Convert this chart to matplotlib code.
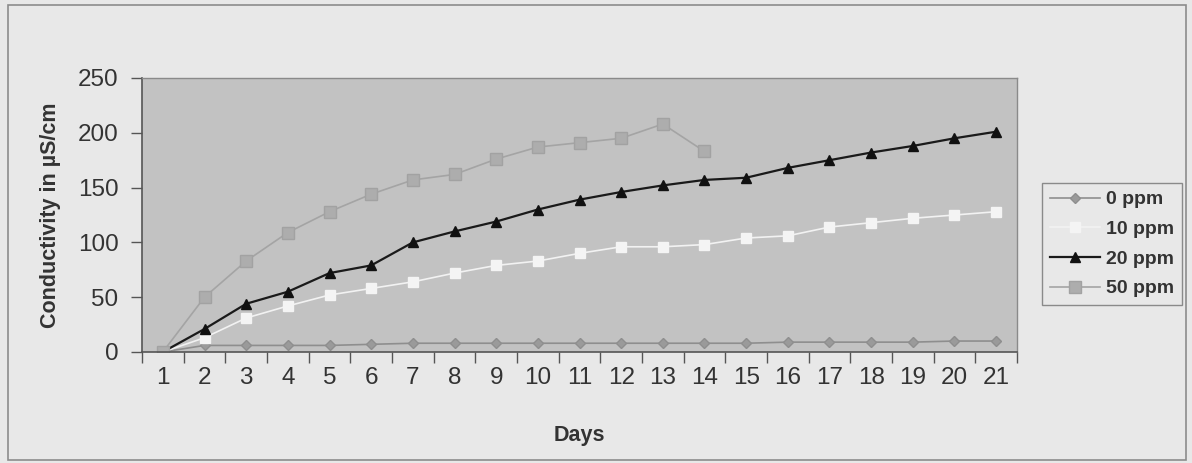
import matplotlib.pyplot as plt
from matplotlib.patches import Rectangle

plt.rcParams['font.family'] = ['Liberation Sans', 'DejaVu Sans']

# dados
dias = list(range(1, 22))
ppm_0 = [0, 6, 6, 6, 6, 7, 8, 8, 8, 8, 8, 8, 8, 8, 8, 9, 9, 9, 9, 10, 10]
ppm_10 = [0, 13, 31, 42, 52, 58, 64, 72, 79, 83, 90, 96, 96, 98, 104, 106,
          114, 118, 122, 125, 128]
ppm_20 = [0, 21, 44, 55, 72, 79, 100, 110, 119, 130, 139, 146, 152, 157, 159,
          168, 175, 182, 188, 195, 201]
dias_50 = list(range(1, 15))
ppm_50 = [0, 50, 83, 109, 128, 144, 157, 162, 176, 187, 191, 195, 208, 183]

fig = plt.figure(figsize=(11.92, 4.63), dpi=100, facecolor='#e8e8e8')
ax = fig.add_axes([142 / 1192, 1 - 352 / 463, (1017 - 142) / 1192, (352 - 78) / 463])
ax.set_facecolor('#c2c2c2')

# moldura externa do gráfico
fig.patches.append(Rectangle((8 / 1192, 3 / 463), 1178 / 1192, 455 / 463,
                             transform=fig.transFigure, fill=False,
                             edgecolor='#8c8c8c', linewidth=1.2))

ax.plot(dias, ppm_0, color='#8e8e8e', lw=1.2, marker='D', ms=5.5,
        mfc='#9a9a9a', mec='#8e8e8e', label='0 ppm')
ax.plot(dias, ppm_10, color='#f2f2f2', lw=1.2, marker='s', ms=7.5,
        mfc='#f4f4f4', mec='#f4f4f4', label='10 ppm')
ax.plot(dias, ppm_20, color='#1a1a1a', lw=1.6, marker='^', ms=7.5,
        mfc='#111111', mec='#111111', label='20 ppm')
ax.plot(dias_50, ppm_50, color='#a4a4a4', lw=1.2, marker='s', ms=8,
        mfc='#adadad', mec='#a2a2a2', label='50 ppm')

ax.set_xlim(0.5, 21.5)
ax.set_ylim(0, 250)
ax.set_yticks(range(0, 251, 50))
ax.set_xticks([d + 0.5 for d in range(0, 22)])
ax.set_xticklabels([])
ax.set_xticks(dias, minor=True)
ax.set_xticklabels([str(d) for d in dias], minor=True)
ax.tick_params(axis='x', which='major', length=8, width=1, color='#555555', direction='out')
ax.tick_params(axis='x', which='minor', length=0, pad=11, labelsize=17.5, labelcolor='#333333')
ax.tick_params(axis='y', length=8, width=1, color='#555555', direction='out',
               labelsize=17.5, labelcolor='#333333', pad=9)

for lado in ['top', 'right']:
    ax.spines[lado].set_color('#8a8a8a')
    ax.spines[lado].set_linewidth(1)
for lado in ['left', 'bottom']:
    ax.spines[lado].set_color('#555555')
    ax.spines[lado].set_linewidth(1.2)

ax.set_ylabel('Conductivity in µS/cm', fontsize=15.5, fontweight='bold',
              color='#333333', labelpad=12)
ax.set_xlabel('Days', fontsize=15.5, fontweight='bold', color='#333333', labelpad=26)

leg = ax.legend(loc='upper left', bbox_to_anchor=(1042 / 1192, 1 - 183 / 463),
                bbox_transform=fig.transFigure, borderaxespad=0,
                prop={'weight': 'bold', 'size': 14}, handlelength=2.6,
                handletextpad=0.3, labelspacing=0.62, fancybox=False,
                facecolor='#e8e8e8', edgecolor='#8a8a8a', framealpha=1)
for t in leg.get_texts():
    t.set_color('#333333')

fig.savefig('out.png', dpi=100, facecolor=fig.get_facecolor())
